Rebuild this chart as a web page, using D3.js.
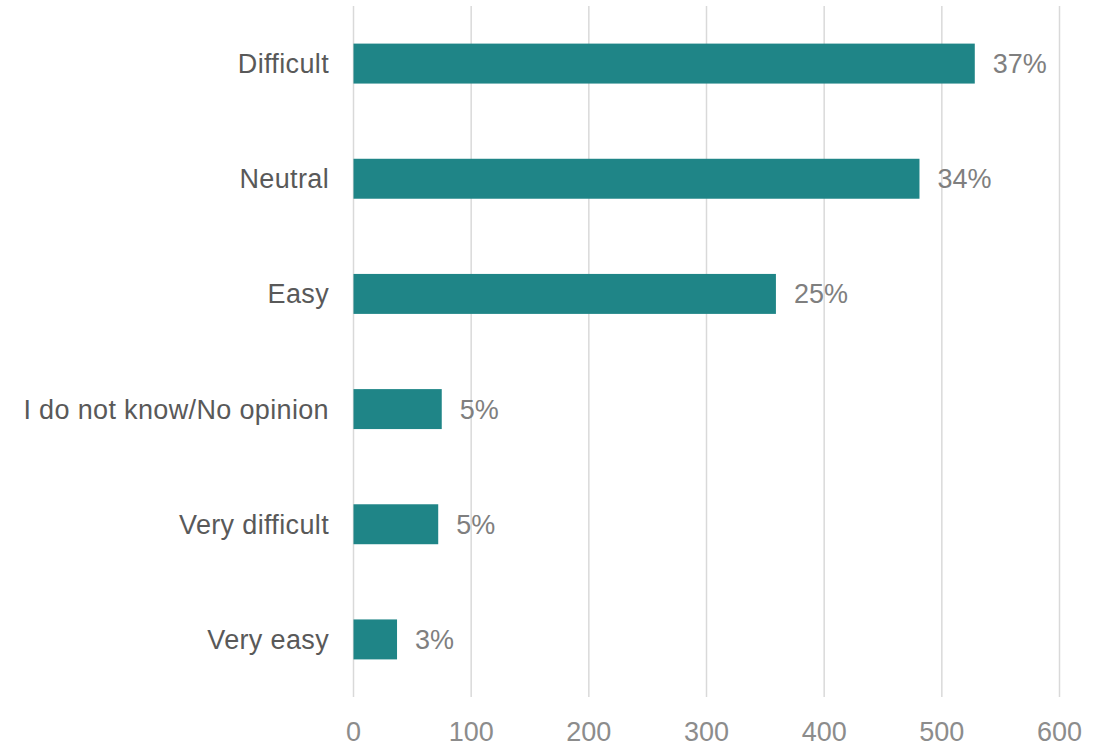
<!DOCTYPE html>
<html>
<head>
<meta charset="utf-8">
<script src="https://cdn.jsdelivr.net/npm/d3@7"></script>
<style>
  html, body { margin: 0; padding: 0; background: #fff; }
  svg { display: block; font-family: "Liberation Sans", Arial, sans-serif; }
</style>
</head>
<body>
<svg id="chart" width="1112" height="747"></svg>
<script>
const categories = ["Difficult", "Neutral", "Easy", "I do not know/No opinion", "Very difficult", "Very easy"];
const values = [528, 481, 359, 75, 72, 37];
const percentLabels = ["37%", "34%", "25%", "5%", "5%", "3%"];
const tickValues = [0, 100, 200, 300, 400, 500, 600];

const svg = d3.select("#chart");
const x = d3.scaleLinear().domain([0, 600]).range([353.5, 1059.5]);
const y = d3.scaleBand().domain(categories).range([6, 697]).paddingInner(0.653).paddingOuter(0.3265);

// gridlines
svg.append("g").selectAll("line").data(tickValues).join("line")
  .attr("x1", d => x(d)).attr("x2", d => x(d))
  .attr("y1", 6).attr("y2", 697)
  .attr("stroke", "#d9d9d9").attr("stroke-width", 1.5);

// x tick labels
svg.append("g").selectAll("text").data(tickValues).join("text")
  .attr("x", d => x(d)).attr("y", 741)
  .attr("text-anchor", "middle")
  .attr("font-size", 27).attr("fill", "#8c8c8c")
  .text(d => d);

// bars
svg.append("g").selectAll("rect").data(values).join("rect")
  .attr("x", x(0)).attr("y", (d, i) => y(categories[i]))
  .attr("width", d => x(d) - x(0)).attr("height", y.bandwidth())
  .attr("fill", "#1f8587");

// category labels
svg.append("g").selectAll("text").data(categories).join("text")
  .attr("x", 329).attr("y", d => y(d) + y.bandwidth() / 2)
  .attr("dy", "0.35em").attr("text-anchor", "end")
  .attr("font-size", 27).attr("fill", "#595959")
  .attr("letter-spacing", "0.35px")
  .text(d => d);

// value labels
svg.append("g").selectAll("text").data(values).join("text")
  .attr("x", d => x(d) + 18).attr("y", (d, i) => y(categories[i]) + y.bandwidth() / 2)
  .attr("dy", "0.35em")
  .attr("font-size", 27).attr("fill", "#7f7f7f")
  .text((d, i) => percentLabels[i]);
</script>
</body>
</html>
